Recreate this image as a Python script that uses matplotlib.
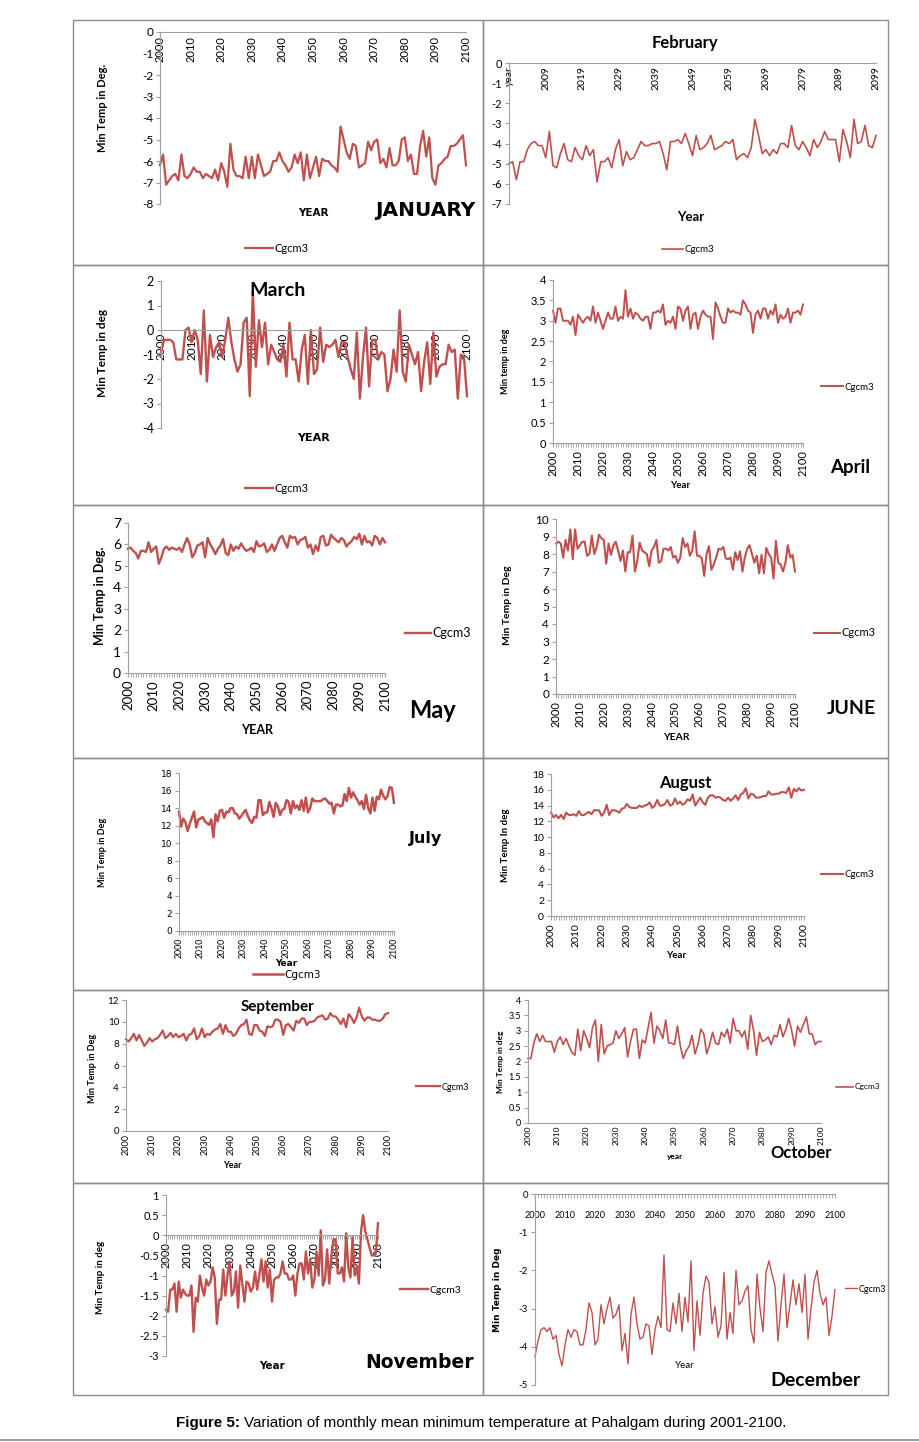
import numpy as np
import matplotlib
matplotlib.use('Agg')
import matplotlib.pyplot as plt
from matplotlib.patches import Rectangle
from matplotlib.lines import Line2D

plt.rcParams['axes.unicode_minus'] = False

# ---- data ----
years = list(range(2000, 2101))
feb_idx = list(range(0, 101))
feb_labels = ['year', '2009', '2019', '2029', '2039', '2049', '2059', '2069', '2079', '2089', '2099']

jan = [-6.2, -5.7, -7.1, -6.9, -6.7, -6.6, -6.9, -5.7, -6.7, -6.8,
       -6.6, -6.3, -6.5, -6.5, -6.8, -6.6, -6.7, -6.8, -6.4, -6.9,
       -6.1, -6.5, -7.2, -5.2, -6.4, -6.7, -6.7, -6.8, -5.8, -6.8,
       -5.8, -6.8, -5.7, -6.2, -6.7, -6.6, -6.5, -6.0, -6.0, -5.6,
       -6.0, -6.2, -6.5, -6.3, -5.7, -6.1, -5.6, -6.9, -5.7, -6.8,
       -6.3, -5.8, -6.7, -5.9, -6.0, -6.0, -6.2, -6.3, -6.5, -4.4,
       -5.0, -5.6, -5.9, -5.2, -5.3, -6.3, -6.2, -6.1, -5.1, -5.5,
       -5.1, -5.0, -6.1, -5.9, -6.3, -5.4, -6.2, -6.2, -6.0, -5.0,
       -4.9, -6.0, -5.7, -6.6, -6.6, -5.3, -4.6, -5.8, -4.9, -6.8,
       -7.1, -6.2, -6.1, -5.9, -5.8, -5.3, -5.3, -5.2, -5.0, -4.8, -6.2]

feb = [-5.0, -4.9, -5.8, -4.9, -4.9, -4.3, -4.0, -3.9, -4.1, -4.1,
       -4.7, -3.4, -5.1, -5.2, -4.5, -4.0, -4.8, -4.9, -4.2, -4.6,
       -4.8, -4.1, -4.6, -4.3, -5.9, -4.9, -4.9, -4.7, -5.2, -4.3,
       -3.8, -5.1, -4.4, -4.8, -4.7, -4.3, -3.9, -4.1, -4.1, -4.0,
       -4.0, -3.9, -4.5, -5.3, -3.9, -3.9, -3.8, -4.0, -3.5, -4.0,
       -4.6, -3.6, -4.3, -4.2, -4.0, -3.6, -4.3, -4.2, -4.1, -3.9,
       -4.0, -3.8, -4.8, -4.6, -4.5, -4.7, -4.2, -2.8, -3.6, -4.5,
       -4.3, -4.6, -4.3, -4.5, -4.0, -4.0, -4.2, -3.1, -4.1, -4.3,
       -3.9, -4.2, -4.6, -3.8, -4.2, -3.9, -3.4, -3.8, -3.8, -3.8,
       -4.9, -3.3, -3.9, -4.7, -2.8, -4.0, -3.9, -3.1, -4.1, -4.2, -3.6]

mar = [-0.9, -0.4, -0.4, -0.4, -0.5, -1.2, -1.2, -1.2, 0.0, 0.1,
       -0.5, 0.0, -0.4, -1.8, 0.8, -2.1, -0.2, -1.1, -0.7, -0.5,
       -1.1, -0.4, 0.5, -0.5, -1.2, -1.7, -1.4, 0.3, 0.5, -2.7,
       1.6, -1.5, 0.4, -0.7, 0.3, -1.4, -0.6, -0.9, -1.2, -1.3,
       -0.6, -1.9, 0.3, -1.2, -1.2, -2.1, -0.8, -0.2, -2.2, 0.0,
       -1.8, -1.6, 0.1, -1.3, -0.6, -0.7, -0.6, -0.4, -1.1, -0.5,
       -0.5, -1.1, -1.6, -2.0, -0.1, -2.8, -1.1, 0.1, -2.3, -0.4,
       -0.4, -1.2, -0.9, -1.0, -2.5, -2.0, -0.8, -1.7, 0.8, -1.7,
       -2.1, -0.6, -1.0, -1.4, -0.9, -2.5, -1.3, -0.5, -2.2, -0.1,
       -1.9, -1.5, -1.4, -1.4, -0.6, -0.9, -0.8, -2.8, -1.0, -1.1, -2.7]

apr = [3.25, 2.95, 3.3, 3.3, 3.0, 3.0, 3.0, 2.9, 3.1, 2.65,
       3.15, 3.05, 2.95, 3.05, 3.1, 3.0, 3.35, 2.95, 3.2, 3.0,
       2.8, 3.0, 3.2, 3.05, 3.05, 3.35, 3.0, 3.1, 3.05, 3.75,
       3.1, 3.3, 3.05, 3.2, 3.15, 3.05, 3.0, 3.1, 3.1, 2.8,
       3.2, 3.2, 3.25, 3.2, 3.4, 2.9, 3.0, 2.95, 3.1, 2.8,
       3.35, 3.3, 3.0, 3.25, 3.35, 2.8, 3.15, 3.2, 2.8, 3.1,
       3.25, 3.15, 3.1, 3.1, 2.55, 3.45, 3.3, 3.1, 2.95, 2.95,
       3.3, 3.2, 3.25, 3.2, 3.2, 3.15, 3.5, 3.4, 3.25, 3.2,
       2.7, 3.15, 3.25, 3.05, 3.3, 3.3, 3.05, 3.25, 3.15, 3.4,
       2.95, 3.15, 3.05, 3.1, 3.3, 2.95, 3.2, 3.2, 3.25, 3.15, 3.4]

may = [5.8, 5.85, 5.7, 5.6, 5.35, 5.7, 5.7, 5.65, 6.1, 5.65,
       5.8, 5.9, 5.1, 5.4, 5.8, 5.9, 5.75, 5.85, 5.8, 5.75,
       5.85, 5.65, 6.0, 6.3, 6.0, 5.4, 5.6, 5.95, 6.0, 6.1,
       5.4, 6.3, 6.0, 5.8, 5.55, 5.8, 5.95, 6.25, 5.6, 5.5,
       6.0, 5.7, 5.9, 5.8, 6.05, 5.85, 5.7, 5.75, 5.85, 5.65,
       6.15, 5.9, 5.95, 6.05, 5.65, 5.75, 6.0, 5.7, 6.0, 6.3,
       6.4, 6.1, 5.85, 6.4, 6.3, 6.35, 6.0, 6.2, 6.25, 6.35,
       5.85, 6.0, 5.55, 5.95, 5.7, 6.35, 6.4, 5.95, 6.0, 6.45,
       6.3, 6.2, 6.1, 6.3, 6.2, 5.9, 6.05, 6.15, 6.35, 6.25,
       6.5, 6.0, 6.4, 6.1, 6.15, 5.95, 6.4, 6.3, 6.0, 6.3, 6.1]

jun = [8.6, 8.7, 8.6, 7.8, 8.8, 8.2, 9.4, 7.7, 9.4, 8.3,
       8.5, 8.7, 8.7, 7.9, 8.0, 9.05, 8.0, 8.4, 9.1, 8.9,
       8.8, 7.45, 8.6, 7.95, 8.5, 8.7, 8.2, 7.6, 8.2, 7.0,
       8.1, 8.1, 9.05, 7.0, 7.6, 8.65, 8.2, 8.1, 8.0, 7.3,
       8.2, 8.4, 8.8, 7.5, 7.6, 8.3, 8.3, 8.2, 8.4, 7.8,
       7.9, 7.5, 7.8, 8.9, 8.4, 8.6, 7.9, 8.2, 9.3, 7.9,
       7.9, 7.75, 6.75, 8.0, 8.45, 7.1, 7.4, 7.8, 8.3, 8.25,
       8.4, 7.75, 7.7, 7.8, 7.1, 8.1, 7.65, 8.15, 7.0, 7.8,
       8.3, 8.5, 8.0, 7.5, 7.9, 6.9, 7.95, 6.9, 8.35, 8.0,
       7.8, 6.6, 8.75, 7.5, 7.4, 7.0, 7.5, 8.5, 7.8, 7.95, 7.0]

jul = [13.6, 11.9, 12.8, 12.4, 11.4, 12.2, 12.9, 13.6, 11.8, 12.7,
       12.8, 13.0, 12.5, 12.3, 12.1, 12.7, 10.7, 13.3, 12.5, 13.7,
       13.8, 12.9, 13.6, 13.5, 14.0, 14.0, 13.4, 13.3, 12.8, 13.1,
       13.5, 13.8, 13.1, 12.6, 12.3, 13.0, 12.9, 14.9, 14.9, 13.2,
       13.5, 13.5, 14.7, 14.0, 13.0, 14.6, 14.2, 13.2, 13.8, 13.9,
       14.9, 14.7, 13.4, 14.8, 14.0, 14.3, 13.8, 14.9, 13.7, 15.2,
       13.5, 14.0, 15.1, 14.8, 14.8, 14.8, 14.8, 15.0, 15.1, 14.8,
       14.5, 14.6, 13.4, 14.4, 14.4, 14.2, 14.3, 15.6, 14.8, 16.3,
       15.2, 15.8, 15.3, 14.9, 14.4, 14.8, 13.9, 15.5, 14.0, 13.4,
       15.2, 13.7, 15.3, 15.0, 16.1, 15.4, 15.0, 15.4, 16.4, 16.3, 14.6]

aug = [13.1, 12.5, 12.8, 12.4, 12.8, 12.3, 13.1, 12.8, 12.8, 12.9,
       12.7, 13.3, 12.8, 12.8, 13.0, 13.2, 12.9, 13.4, 13.4, 13.4,
       12.7, 13.1, 14.1, 12.8, 13.4, 13.4, 13.3, 13.1, 13.6, 13.7,
       14.2, 13.8, 13.7, 13.7, 13.7, 14.0, 13.8, 14.0, 14.1, 14.4,
       13.7, 14.0, 14.7, 14.0, 14.0, 14.2, 14.7, 14.0, 14.1, 14.9,
       14.2, 14.5, 14.1, 14.3, 14.8, 14.6, 15.4, 14.0, 14.5, 15.0,
       14.4, 14.1, 15.0, 15.3, 15.3, 15.0, 15.1, 15.0, 14.7, 14.6,
       15.0, 14.6, 14.9, 15.3, 14.7, 15.4, 15.6, 16.2, 14.9, 15.5,
       15.4, 15.0, 15.0, 15.1, 15.2, 15.2, 15.8, 15.4, 15.4, 15.5,
       15.5, 15.7, 15.7, 15.6, 16.3, 15.0, 16.1, 15.8, 16.2, 15.9, 16.0]

sep = [8.4, 8.2, 8.5, 8.9, 8.3, 8.8, 8.3, 7.8, 8.1, 8.5,
       8.2, 8.4, 8.5, 8.8, 9.2, 8.5, 8.7, 9.0, 8.6, 8.9,
       8.6, 8.7, 8.9, 8.3, 8.8, 8.9, 9.4, 8.4, 8.7, 9.4,
       8.6, 8.9, 8.8, 9.1, 9.3, 9.4, 9.8, 8.9, 9.7, 9.1,
       9.1, 8.7, 8.9, 9.4, 9.7, 9.8, 10.2, 8.9, 8.8, 9.7,
       9.7, 9.2, 9.1, 8.7, 9.6, 9.5, 9.6, 10.2, 10.2, 10.0,
       8.8, 9.7, 9.8, 9.5, 9.2, 10.1, 9.9, 10.3, 10.3, 9.7,
       10.0, 10.0, 10.1, 10.4, 10.5, 10.6, 10.2, 10.3, 10.8, 10.5,
       10.5, 10.2, 9.8, 10.3, 9.5, 10.7, 10.4, 9.9, 10.4, 11.3,
       10.5, 10.1, 10.4, 10.4, 10.2, 10.2, 10.1, 10.1, 10.3, 10.7, 10.8]

oct_ = [2.1, 2.1, 2.6, 2.9, 2.65, 2.85, 2.65, 2.65, 2.65, 2.3,
        2.65, 2.8, 2.55, 2.75, 2.5, 2.3, 2.2, 3.05, 2.35, 3.0,
        2.75, 2.45, 3.1, 3.35, 2.0, 3.2, 2.25, 2.5, 2.55, 2.6,
        3.0, 2.75, 2.9, 3.1, 2.15, 2.65, 3.05, 3.05, 2.1, 2.7,
        2.6, 3.1, 3.6, 2.6, 3.15, 3.0, 2.75, 3.35, 2.6, 2.6,
        2.55, 3.15, 2.5, 2.1, 2.35, 2.5, 2.85, 2.25, 2.55, 3.05,
        2.9, 2.25, 2.55, 2.95, 2.6, 2.55, 2.95, 2.8, 3.05, 2.6,
        3.4, 3.0, 3.0, 2.8, 3.0, 2.4, 3.5, 3.0, 2.2, 2.95,
        2.65, 2.7, 2.8, 2.55, 2.85, 2.8, 3.2, 2.8, 3.05, 3.4,
        3.0, 2.5, 3.15, 2.95, 3.2, 3.45, 2.9, 2.9, 2.55, 2.65, 2.65]

nov = [-1.85, -1.9, -1.35, -1.35, -1.2, -1.9, -1.15, -1.55, -1.35, -1.45,
       -1.5, -1.5, -1.25, -2.4, -1.55, -1.65, -1.0, -1.3, -1.5, -1.1,
       -1.25, -1.15, -0.8, -1.05, -2.2, -1.6, -1.6, -0.85, -1.5, -1.0,
       -0.65, -1.5, -1.4, -0.9, -1.8, -0.75, -1.2, -1.65, -1.15, -1.2,
       -1.4, -1.3, -0.9, -1.35, -1.0, -0.6, -1.15, -0.65, -1.3, -0.85,
       -1.65, -1.1, -1.05, -1.05, -0.95, -0.65, -0.95, -0.95, -1.1, -1.1,
       -1.0, -1.5, -0.95, -0.7, -0.7, -1.1, -0.4, -0.95, -0.6, -1.3,
       -1.1, -0.4, -1.0, 0.12, -1.25, -1.1, -0.35, -1.2, -0.5, -0.1,
       -0.1, -0.95, -0.95, -0.8, -1.15, 0.05, -0.8, -1.05, -0.05, -1.0,
       -0.8, -1.2, 0.1, 0.5, 0.1, -0.1, -0.3, -0.5, -0.5, -0.45, 0.3]

dec = [-4.25, -3.85, -3.55, -3.5, -3.6, -3.5, -3.8, -3.7, -4.2, -4.5,
       -3.95, -3.55, -3.75, -3.55, -3.6, -3.95, -3.95, -3.55, -2.85, -3.1,
       -3.95, -3.8, -2.9, -3.4, -3.0, -2.7, -3.25, -3.15, -2.9, -4.1,
       -3.65, -4.45, -3.15, -2.7, -3.4, -3.8, -3.75, -3.4, -3.45, -4.2,
       -3.55, -3.2, -3.5, -1.6, -3.55, -3.6, -2.85, -3.4, -2.6, -3.6,
       -2.7, -3.35, -1.75, -4.1, -2.8, -3.7, -2.6, -2.15, -2.3, -3.4,
       -2.95, -3.75, -3.45, -2.05, -3.8, -3.1, -3.65, -2.0, -2.9, -2.8,
       -2.55, -2.4, -3.55, -3.9, -2.1, -3.0, -3.6, -2.05, -1.75, -2.1,
       -2.4, -3.85, -2.9, -2.1, -3.5, -2.9, -2.25, -2.9, -2.35, -3.1,
       -2.1, -3.8, -3.0, -2.3, -2.0, -2.6, -2.9, -2.7, -3.7, -3.2, -2.5]

decade_ticks = list(range(2000, 2101, 10))
decade_labels = [str(t) for t in decade_ticks]

# ---- layout helpers (pixel coords, origin top-left) ----
W, H = 920, 1442
RED = '#C0504D'
AXC = '#A0A0A0'
CELL = '#8C8C8C'
NARROW = ['Liberation Sans Narrow', 'Lato']

fig = plt.figure(figsize=(9.2, 14.42), dpi=100)


def fx(x):
    return x / W


def fy(y):
    return 1 - y / H


def text(x, y, s, size, bold=True, rot=0, family='Lato', ha='center'):
    fig.text(fx(x), fy(y), s, fontsize=size, fontweight='bold' if bold else 'normal',
             rotation=rot, ha=ha, va='center', family=family)


def make_ax(x0, y0, x1, y1, ylim, yticks, ylabels, ysize, family='Lato', zero=False):
    ax = fig.add_axes([fx(x0), fy(y1), (x1 - x0) / W, (y1 - y0) / H])
    ax.set_facecolor('none')
    ax.spines['top'].set_visible(False)
    ax.spines['right'].set_visible(False)
    ax.spines['left'].set_color(AXC)
    ax.spines['bottom'].set_color(AXC)
    if zero:
        # horizontal axis crosses at 0 (set before ticks, it resets them)
        ax.spines['bottom'].set_position(('data', 0))
    ax.set_ylim(*ylim)
    ax.set_yticks(yticks, ylabels, fontsize=ysize, family=family)
    ax.tick_params(axis='y', length=3, color=AXC, pad=2)
    return ax


def set_x(ax, ticks, labels, size, rot=90, minor=None, family='Lato', pad=2):
    ax.set_xlim(ticks[0], ticks[-1])
    ax.set_xticks(ticks, labels, rotation=rot, fontsize=size, family=family)
    if minor is not None:
        ax.set_xticks(minor, minor=True)
        ax.tick_params(axis='x', which='both', length=3, color=AXC, pad=pad)
    else:
        ax.tick_params(axis='x', length=0, pad=pad)


def legend(ax, line, x, y, size, length_px, family='Lato'):
    ax.legend([line], ['Cgcm3'], loc='center left', bbox_to_anchor=(fx(x), fy(y)),
              bbox_transform=fig.transFigure, frameon=False, borderpad=0, borderaxespad=0,
              handlelength=length_px / (size * 100 / 72), handletextpad=0.15,
              prop={'size': size, 'family': family})


# cell borders
rows = [20, 265, 505, 758, 990, 1183, 1395]
for r0, r1 in zip(rows[:-1], rows[1:]):
    for c0, c1 in [(73, 483), (483, 888)]:
        fig.add_artist(Rectangle((fx(c0), fy(r1)), (c1 - c0) / W, (r1 - r0) / H,
                                 transform=fig.transFigure, fill=False, edgecolor=CELL, lw=1))

# ---- January ----
ax = make_ax(160, 32, 466, 204, (-8, 0), range(0, -9, -1), [str(v) for v in range(0, -9, -1)], 8.5,
             zero=True)
ln, = ax.plot(years, jan, color=RED, lw=1.6, clip_on=False)
set_x(ax, decade_ticks, decade_labels, 8, pad=3)
text(103, 108, 'Min Temp in Deg.', 8, rot=90)
text(313, 213, 'YEAR', 7.5, family='DejaVu Sans')
text(425, 210, 'JANUARY', 14.5, family='DejaVu Sans')
legend(ax, ln, 245, 248, 8, 28)

# ---- February ----
ax = make_ax(509, 63, 876, 204, (-7, 0), range(0, -8, -1), [str(v) for v in range(0, -8, -1)], 8,
             zero=True)
ln, = ax.plot(feb_idx, feb, color=RED, lw=1.2, clip_on=False)
set_x(ax, list(range(0, 101, 10)), feb_labels, 7.5)
text(685, 43, 'February', 12)
text(691, 217, 'Year', 9.5)
legend(ax, ln, 662, 250, 7, 21)

# ---- March ----
ax = make_ax(161, 281, 467, 428, (-4, 2), range(2, -5, -1), [str(v) for v in range(2, -5, -1)], 9,
             zero=True)
ln, = ax.plot(years, mar, color=RED, lw=1.7, clip_on=False)
set_x(ax, decade_ticks, decade_labels, 8.5)
text(278, 290, 'March', 14)
text(103, 353, 'Min Temp in deg', 8.5, rot=90)
text(313, 438, 'YEAR', 8, family='DejaVu Sans')
legend(ax, ln, 245, 488, 8, 28)

# ---- April ----
half = [i / 2 for i in range(0, 9)]
half_lab = ['0', '0.5', '1', '1.5', '2', '2.5', '3', '3.5', '4']
ax = make_ax(553, 280, 803, 443, (0, 4), half, half_lab, 8)
ln, = ax.plot(years, apr, color=RED, lw=1.4, clip_on=False)
set_x(ax, decade_ticks, decade_labels, 8, minor=years)
text(506, 361, 'Min temp in deg', 6.5, rot=90)
text(680, 485, 'Year', 7)
text(850, 467, 'April', 13.5)
legend(ax, ln, 821, 387, 7, 22)

# ---- May ----
ax = make_ax(128, 523, 385, 673, (0, 7), range(0, 8), [str(v) for v in range(0, 8)], 10)
ln, = ax.plot(years, may, color=RED, lw=1.7, clip_on=False)
set_x(ax, decade_ticks, decade_labels, 9.5, minor=years)
text(100, 596, 'Min Temp in Deg.', 9, rot=90)
text(257, 730, 'YEAR', 9)
text(433, 710, 'May', 17)
legend(ax, ln, 405, 633, 9, 26)

# ---- June ----
ax = make_ax(556, 519, 795, 694, (0, 10), range(0, 11), [str(v) for v in range(0, 11)], 8.5)
ln, = ax.plot(years, jun, color=RED, lw=1.5, clip_on=False)
set_x(ax, decade_ticks, decade_labels, 8, minor=years)
text(508, 605, 'Min Temp in Deg', 7.5, rot=90)
text(676, 737, 'YEAR', 7.5)
text(851, 708, 'JUNE', 14)
legend(ax, ln, 814, 633, 8, 26)

# ---- July ----
ax = make_ax(179, 773, 394, 931, (0, 18), range(0, 19, 2), [str(v) for v in range(0, 19, 2)], 6.5,
             family='DejaVu Sans')
ln, = ax.plot(years, jul, color=RED, lw=1.8, clip_on=False)
set_x(ax, decade_ticks, decade_labels, 6.3, minor=years, family=NARROW)
text(103, 852, 'Min Temp in Deg', 6.5, rot=90, family=NARROW)
text(286, 963, 'Year', 6.5, family='DejaVu Sans')
text(426, 839, 'July', 11.5, family='DejaVu Sans')
legend(ax, ln, 253, 975, 7.5, 30, family='DejaVu Sans')

# ---- August ----
ax = make_ax(551, 774, 804, 916, (0, 18), range(0, 19, 2), [str(v) for v in range(0, 19, 2)], 7.5)
ln, = ax.plot(years, aug, color=RED, lw=1.5, clip_on=False)
set_x(ax, decade_ticks, decade_labels, 7.5, minor=years)
text(685, 783, 'August', 12)
text(506, 845, 'Min Temp In deg', 7, rot=90)
text(676, 956, 'Year', 7)
legend(ax, ln, 821, 875, 7, 22)

# ---- September ----
ax = make_ax(126, 1000, 388, 1131, (0, 12), range(0, 13, 2), [str(v) for v in range(0, 13, 2)], 7)
ln, = ax.plot(years, sep, color=RED, lw=1.6, clip_on=False)
set_x(ax, decade_ticks, decade_labels, 6.5, family=NARROW)
text(278, 1007, 'September', 11)
text(93, 1068, 'Min Temp in Deg', 6.5, rot=90, family=NARROW)
text(232, 1166, 'Year', 6.5)
legend(ax, ln, 416, 1087, 6.5, 24)

# ---- October ----
ax = make_ax(528, 1000, 821, 1123, (0, 4), half, half_lab, 6.5)
ln, = ax.plot(years, oct_, color=RED, lw=1.2, clip_on=False)
set_x(ax, decade_ticks, decade_labels, 6)
text(501, 1062, 'Min Temp in deg', 6, rot=90)
text(675, 1157, 'year', 6)
text(801, 1153, 'October', 12)
legend(ax, ln, 836, 1087, 6, 17)

# ---- November ----
nt = [1 - i / 2 for i in range(0, 9)]
nl = ['1', '0.5', '0', '-0.5', '-1', '-1.5', '-2', '-2.5', '-3']
ax = make_ax(166, 1195, 378, 1356, (-3, 1), nt, nl, 8, zero=True)
ln, = ax.plot(years, nov, color=RED, lw=1.7, clip_on=False)
set_x(ax, decade_ticks, decade_labels, 8, minor=years)
text(101, 1277, 'Min Temp in deg', 7, rot=90)
text(272, 1366, 'Year', 7.5, family='DejaVu Sans')
text(420, 1363, 'November', 13.5, family='DejaVu Sans')
legend(ax, ln, 400, 1290, 7.5, 28)

# ---- December ----
ax = make_ax(535, 1194, 835, 1385, (-5, 0), range(0, -6, -1), [str(v) for v in range(0, -6, -1)], 7,
             zero=True)
ln, = ax.plot(years, dec, color=RED, lw=1.0, clip_on=False)
set_x(ax, decade_ticks, decade_labels, 6.5, rot=0, minor=years, pad=9, family=NARROW)
text(498, 1290, 'Min Temp in Deg', 6.5, rot=90, family='DejaVu Sans')
text(685, 1366, 'Year', 7, bold=False, family=NARROW)
text(815, 1380, 'December', 14, family=NARROW)
legend(ax, ln, 845, 1289, 6.5, 12, family=NARROW)

# ---- caption ----
fig.canvas.draw()
cap1 = fig.text(fx(176), fy(1423), 'Figure 5:', fontsize=10.9, fontweight='bold',
                family='Liberation Sans', ha='left', va='center')
bb = cap1.get_window_extent(fig.canvas.get_renderer())
fig.text(bb.x1 / W + 4 / W, fy(1423), 'Variation of monthly mean minimum temperature at Pahalgam during 2001-2100.',
         fontsize=10.9, family='Liberation Sans', ha='left', va='center')
fig.add_artist(Line2D([0, 1], [fy(1440), fy(1440)], color='#A0A0A0', lw=1.5, transform=fig.transFigure))

fig.savefig('out.png', dpi=100)
